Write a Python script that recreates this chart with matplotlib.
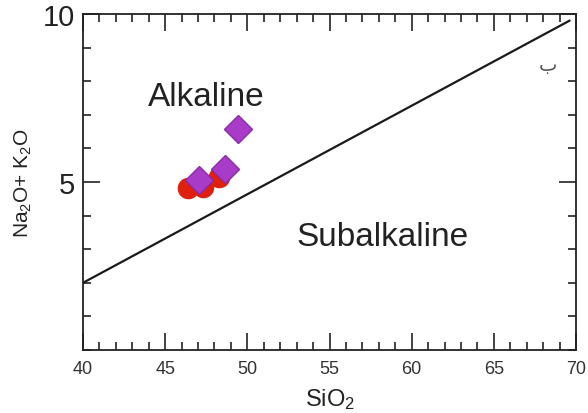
import matplotlib
matplotlib.use("Agg")
import matplotlib.pyplot as plt
from matplotlib.ticker import MultipleLocator, FixedLocator

plt.rcParams['font.family'] = ['Liberation Sans', 'DejaVu Sans']
plt.rcParams['mathtext.fontset'] = 'custom'
plt.rcParams['mathtext.rm'] = 'Liberation Sans'
plt.rcParams['mathtext.it'] = 'Liberation Sans'

# Data
boundary_x = [40, 69.6]
boundary_y = [2.0, 9.8]
circle_x = [46.4, 47.3, 48.25]
circle_y = [4.81, 4.85, 5.15]
diamond_x = [47.06, 48.64, 49.45]
diamond_y = [5.07, 5.40, 6.59]
x_ticks = [40, 45, 50, 55, 60, 65, 70]
y_ticks = [5, 10]

fig = plt.figure(figsize=(5.88, 4.14), dpi=100)
ax = fig.add_axes([0.1412, 0.1522, 0.9796 - 0.1412, 0.9638 - 0.1522])
ax.set_xlim(40, 70)
ax.set_ylim(0, 10)

ax.plot(boundary_x, boundary_y, color='#1a1a1a', lw=1.6, zorder=2)
ax.plot(circle_x, circle_y, 'o', ms=14.5, color='#e0200e', mec='#e0200e', zorder=3)
ax.plot(diamond_x, diamond_y, 'D', ms=14.5, color='#a83cc8', mec='#8a2aa8', mew=1.0, zorder=4)

ax.text(43.95, 7.55, 'Alkaline', fontsize=24, color='#222222', ha='left', va='center')
ax.text(53.0, 3.38, 'Subalkaline', fontsize=24, color='#222222', ha='left', va='center')
ax.text(68.3, 8.5, '\ufe8f', fontsize=14, color='#555555', ha='center', va='center',
        family=['DejaVu Sans'])

ax.xaxis.set_major_locator(FixedLocator(x_ticks))
ax.xaxis.set_minor_locator(MultipleLocator(1))
ax.yaxis.set_major_locator(FixedLocator(y_ticks))
ax.yaxis.set_minor_locator(MultipleLocator(1))
ax.tick_params(which='both', direction='in', top=True, right=True, width=1.2, color='#222222')
ax.tick_params(which='major', length=12)
ax.tick_params(which='minor', length=6)
ax.tick_params(axis='x', which='major', labelsize=13, pad=7, labelcolor='#333333')
ax.tick_params(axis='y', which='major', labelsize=21, pad=6, labelcolor='#222222')
for s in ax.spines.values():
    s.set_linewidth(1.3)
    s.set_color('#222222')

ax.set_xlabel('SiO$_2$', fontsize=17, color='#222222', labelpad=7)
ax.set_ylabel('Na$_2$O+ K$_2$O', fontsize=15, color='#222222', labelpad=6)

fig.savefig('out.png', dpi=100)
